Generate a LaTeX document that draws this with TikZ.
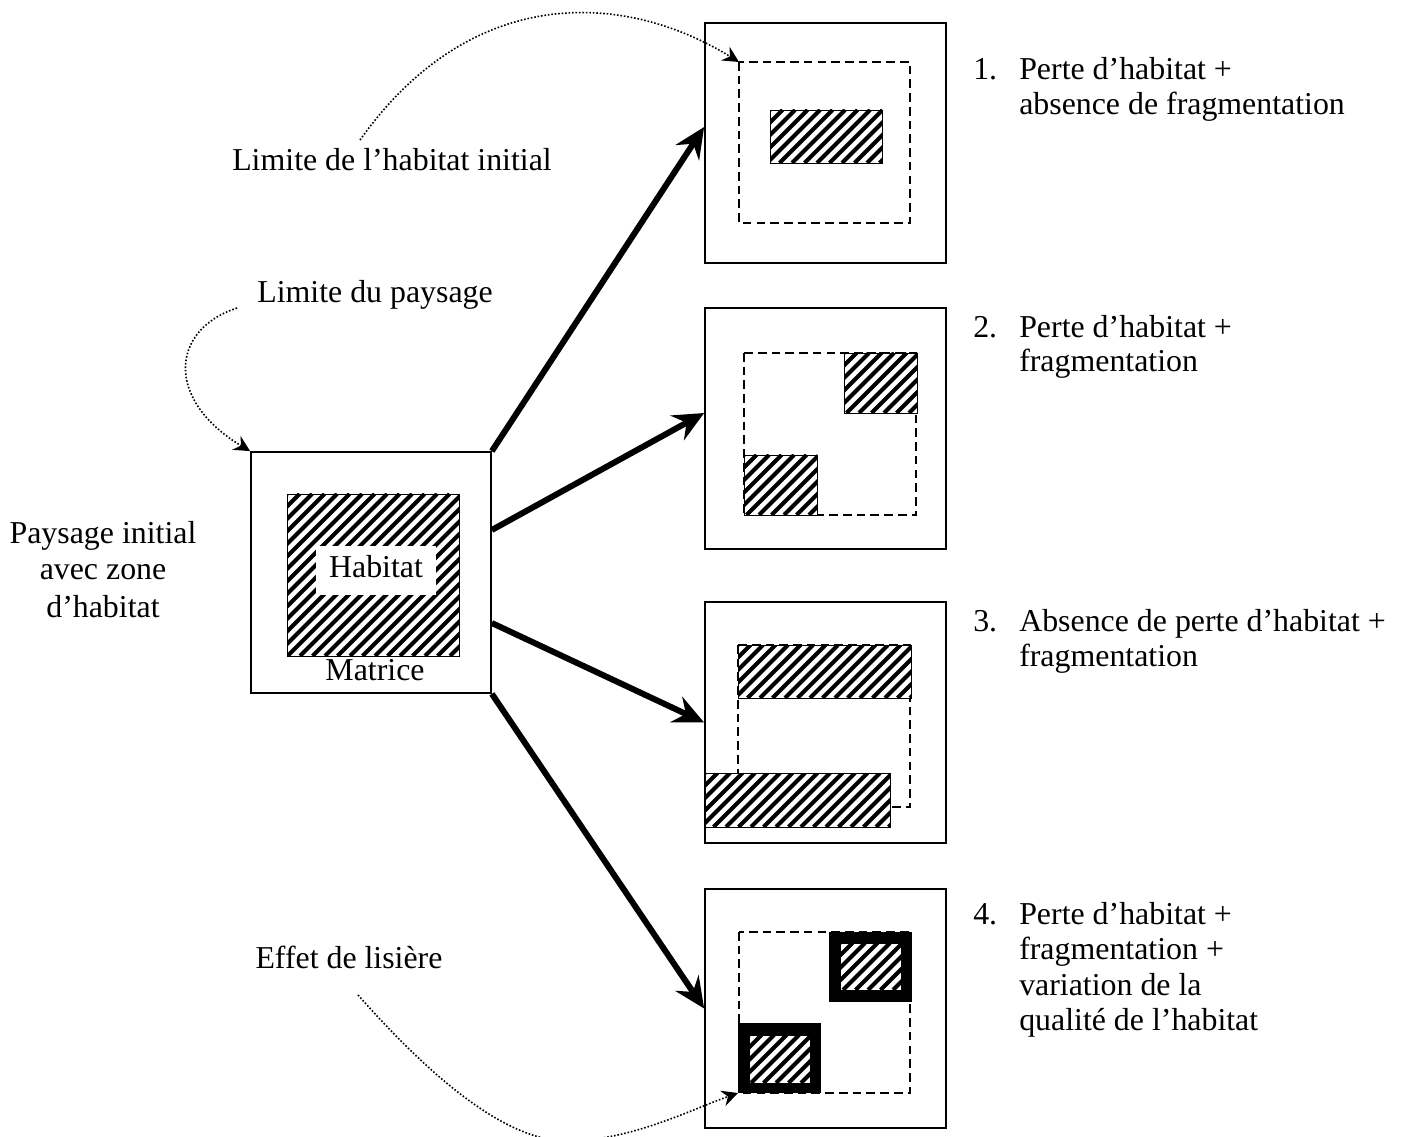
\documentclass[tikz,border=0pt]{standalone}
\usepackage{fontspec}
\setmainfont{Liberation Serif}
\usetikzlibrary{arrows.meta,fit}
\newcommand\hatchrect[4]{%
  \fill[white] (#1,#2) rectangle (#3,#4);
  \begin{scope}
    \clip (#1,#2) rectangle (#3,#4);
    \pgfmathsetmacro\hH{#4-#2}
    \pgfmathsetmacro\hA{#1-\hH}
    \pgfmathsetmacro\hB{#1-\hH+12.5}
    \foreach \a in {\hA,\hB,...,#3} \draw[hatchline] (\a,#4) -- ++(\hH,-\hH);
  \end{scope}
  \draw[line width=0.6pt] (#1,#2) rectangle (#3,#4);
}
\begin{document}
\begin{tikzpicture}[x=0.75pt,y=-0.75pt,
  txt/.style={font=\fontsize{23.9}{28}\selectfont, inner sep=0pt},
  framebox/.style={draw=black, line width=1.3pt, inner sep=0pt},
  dashline/.style={line width=1.5pt, dash pattern=on 6.5pt off 3.8pt},
  hatchline/.style={line width=3pt},
  bigarrow/.style={line width=4.5pt, -{Stealth[length=23pt,width=21pt,inset=8pt]}},
  dotarrow/.style={line width=1.2pt, dash pattern=on 1.2pt off 1.4pt, -{Stealth[length=12pt,width=12pt,inset=4pt]}},
]
\useasboundingbox (0,0) rectangle (1404,1137);
\clip (0,0) rectangle (1404,1137);

% ---------- main landscape ----------
\node[framebox, fit={(251,452) (491,693)}] (main) {};
\hatchrect{287}{494}{459}{656}
\fill[white] (316,546) rectangle (436,595);
\node[txt, anchor=base] (habitat) at (376,577) {Habitat};
\node[txt, anchor=base] (matrice) at (375,680) {Matrice};

% ---------- panels ----------
\node[framebox, fit={(705,23) (946,263)}] (p1) {};
\node[framebox, fit={(705,308) (946,549)}] (p2) {};
\node[framebox, fit={(705,602) (946,843)}] (p3) {};
\node[framebox, fit={(705,889) (946,1128)}] (p4) {};

% panel 1
\draw[dashline] (739,62) rectangle (910,223);
\coordinate (lim1) at (739,62);
\hatchrect{770}{110}{882}{163}

% panel 2
\draw[dashline] (744,353) rectangle (916,515);
\hatchrect{844}{353}{917}{413}
\hatchrect{744}{455}{817}{515}

% panel 3
\draw[dashline] (738,645) rectangle (910,807);
\hatchrect{738}{645}{911}{698}
\hatchrect{705}{773}{890}{827}

% panel 4
\draw[dashline] (739,932) rectangle (910,1093);
\fill (829,932) rectangle (912,1002);
\hatchrect{840}{943}{901}{990}
\fill (738,1023) rectangle (821,1093);
\hatchrect{749}{1035}{810}{1083}
\coordinate (lisiere) at (738,1093);

% ---------- thick arrows ----------
\draw[bigarrow] (main.north east) -- ([yshift=12pt]p1.west);
\draw[bigarrow] ([yshift=31.9pt]main.east) -- ([yshift=11.6pt]p2.west);
\draw[bigarrow] ([yshift=-37.9pt]main.east) -- (p3.west);
\draw[bigarrow] (main.south east) -- (p4.west);

% ---------- left labels ----------
\node[txt, anchor=base] (t1) at (392,171) {Limite de l’habitat initial};
\node[txt, anchor=base] (t2) at (375,303) {Limite du paysage};
\node[txt, anchor=base] (t3a) at (103,544) {Paysage initial};
\node[txt, anchor=base] (t3b) at (103,580) {avec zone};
\node[txt, anchor=base] (t3c) at (103,617) {d’habitat};
\node[txt, anchor=base] (t4) at (349,968) {Effet de lisière};

% ---------- dotted arrows ----------
\coordinate (c1) at (360,140);
\coordinate (c2) at (237,308);
\coordinate (c3) at (358,995);
\coordinate (c3m) at (567,1141);
\draw[dotarrow] (c1) .. controls (470,-15) and (622,-10) .. (lim1);
\draw[dotarrow] (c2) .. controls (170,330) and (165,400) .. (main.north west);
\draw[dotarrow] (c3) .. controls (420,1065) and (500,1141) .. (c3m)
                     .. controls (630,1141) and (690,1110) .. (lisiere);

% ---------- right labels ----------
\node[txt, anchor=base west] (n1) at (973,80) {1.};
\node[txt, anchor=base west] (l1a) at (1019,80) {Perte d’habitat +};
\node[txt, anchor=base west] (l1b) at (1019,115) {absence de fragmentation};

\node[txt, anchor=base west] (n2) at (973,338) {2.};
\node[txt, anchor=base west] (l2a) at (1019,338) {Perte d’habitat +};
\node[txt, anchor=base west] (l2b) at (1019,372) {fragmentation};

\node[txt, anchor=base west] (n3) at (973,631) {3.};
\node[txt, anchor=base west] (l3a) at (1019,631) {Absence de perte d’habitat +};
\node[txt, anchor=base west] (l3b) at (1019,666) {fragmentation};

\node[txt, anchor=base west] (n4) at (973,924) {4.};
\node[txt, anchor=base west] (l4a) at (1019,924) {Perte d’habitat +};
\node[txt, anchor=base west] (l4b) at (1019,959) {fragmentation +};
\node[txt, anchor=base west] (l4c) at (1019,995) {variation de la};
\node[txt, anchor=base west] (l4d) at (1019,1030) {qualité de l’habitat};
\end{tikzpicture}
\end{document}
